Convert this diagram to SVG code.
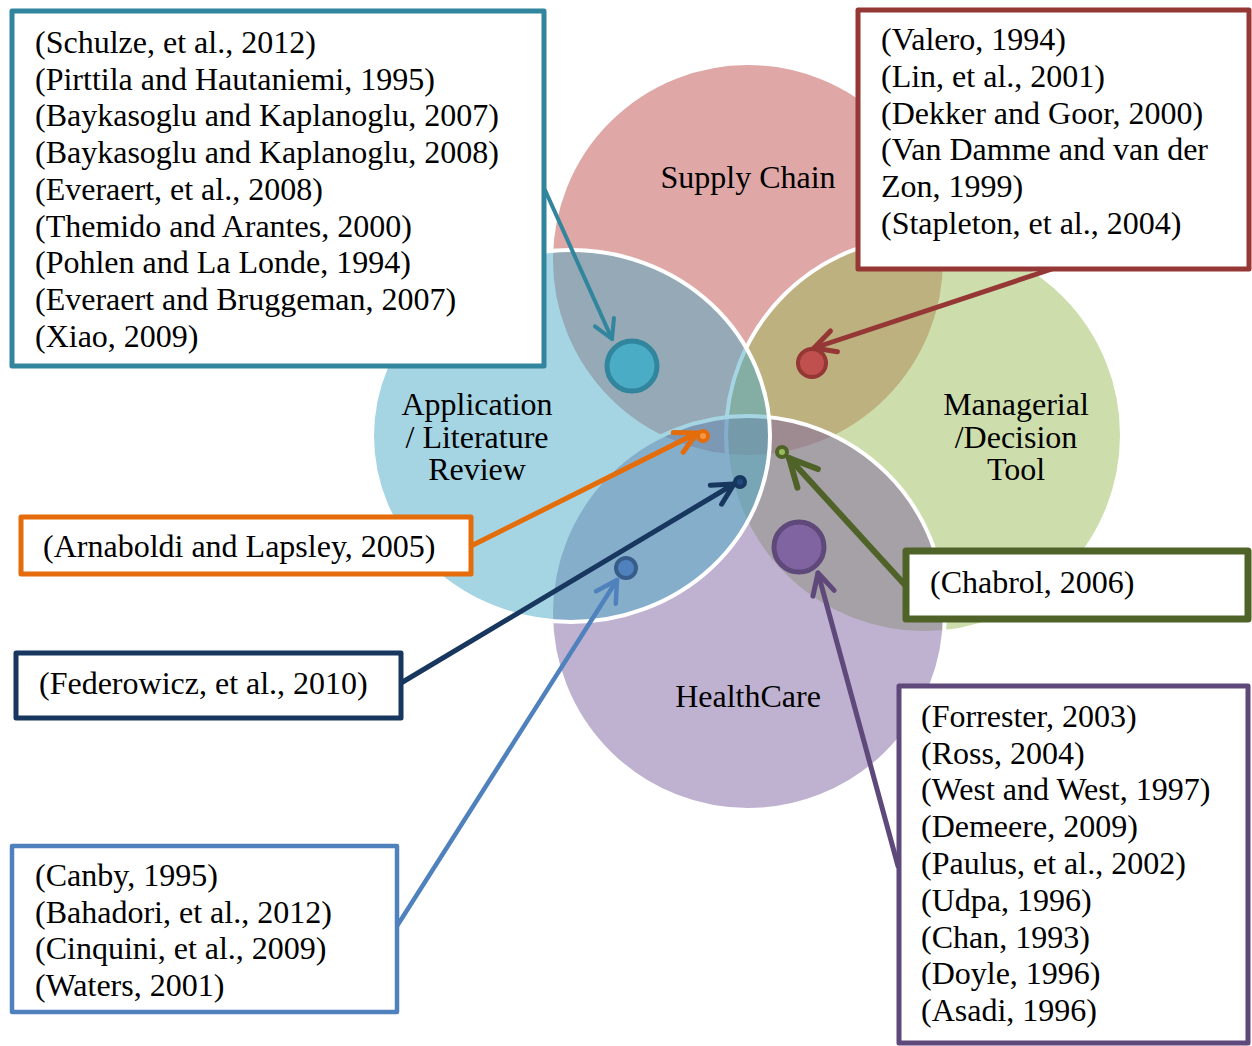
<svg xmlns="http://www.w3.org/2000/svg" width="1252" height="1046" viewBox="0 0 1252 1046">
<style>
text{font-family:"Liberation Serif","Times New Roman",serif;font-size:32px;fill:#000}
.lbl{text-anchor:middle}
.venn{stroke:#fff;stroke-width:4;fill-opacity:0.5}
.box{fill:#fff;stroke-linejoin:round}
.con{fill:none;stroke-linecap:round}
</style>
<defs>
<marker id="m-teal" markerUnits="strokeWidth" orient="auto" overflow="visible" refX="0" refY="0" markerWidth="10" markerHeight="10"><path d="M-4.6,-2.6 L0,0 L-4.6,2.6" fill="none" stroke="#31859C" stroke-width="1" stroke-linecap="round" stroke-linejoin="round"/></marker>
<marker id="m-red" markerUnits="strokeWidth" orient="auto" overflow="visible" refX="0" refY="0" markerWidth="10" markerHeight="10"><path d="M-4.2,-2.2 L0,0 L-4.2,2.2" fill="none" stroke="#953735" stroke-width="1" stroke-linecap="round" stroke-linejoin="round"/></marker>
<marker id="m-orange" markerUnits="strokeWidth" orient="auto" overflow="visible" refX="0" refY="0" markerWidth="10" markerHeight="10"><path d="M-4.2,-2.2 L0,0 L-4.2,2.2" fill="none" stroke="#E46C0A" stroke-width="1" stroke-linecap="round" stroke-linejoin="round"/></marker>
<marker id="m-navy" markerUnits="strokeWidth" orient="auto" overflow="visible" refX="0" refY="0" markerWidth="10" markerHeight="10"><path d="M-4.2,-2.2 L0,0 L-4.2,2.2" fill="none" stroke="#17375E" stroke-width="1" stroke-linecap="round" stroke-linejoin="round"/></marker>
<marker id="m-blue" markerUnits="strokeWidth" orient="auto" overflow="visible" refX="0" refY="0" markerWidth="10" markerHeight="10"><path d="M-4.6,-2.6 L0,0 L-4.6,2.6" fill="none" stroke="#4F81BD" stroke-width="1" stroke-linecap="round" stroke-linejoin="round"/></marker>
<marker id="m-olive" markerUnits="strokeWidth" orient="auto" overflow="visible" refX="0" refY="0" markerWidth="10" markerHeight="10"><path d="M-4.6,-2.3 L0,0 L-4.6,2.3" fill="none" stroke="#4F6228" stroke-width="1" stroke-linecap="round" stroke-linejoin="round"/></marker>
<marker id="m-purple" markerUnits="strokeWidth" orient="auto" overflow="visible" refX="0" refY="0" markerWidth="10" markerHeight="10"><path d="M-4.2,-2.2 L0,0 L-4.2,2.2" fill="none" stroke="#5F497A" stroke-width="1" stroke-linecap="round" stroke-linejoin="round"/></marker>
</defs>
<rect width="1252" height="1046" fill="#fff"/>
<g id="venn">
<g id="supply-chain"><circle class="venn" cx="748" cy="260" r="197" fill="#C0504D"/></g>
<g id="managerial"><circle class="venn" cx="924" cy="435" r="198" fill="#9BBB59"/></g>
<g id="healthcare"><circle class="venn" cx="748" cy="613" r="197" fill="#8064A2"/></g>
<g id="application"><ellipse class="venn" cx="571" cy="436" rx="199" ry="186" fill="#4BACC6"/></g>
</g>
<g id="labels">
<text class="lbl" x="748" y="188">Supply Chain</text>
<text class="lbl" x="477" y="415">Application<tspan x="477" dy="33">/ Literature</tspan><tspan x="477" dy="32">Review</tspan></text>
<text class="lbl" x="1016" y="415">Managerial<tspan x="1016" dy="33">/Decision</tspan><tspan x="1016" dy="32">Tool</tspan></text>
<text class="lbl" x="748" y="707">HealthCare</text>
</g>
<g id="points">
<circle cx="632" cy="366" r="25" fill="#4BACC6" stroke="#31859C" stroke-width="5"/>
<circle cx="812" cy="363" r="14" fill="#C0504D" stroke="#953735" stroke-width="4"/>
<circle cx="703" cy="436" r="5" fill="#F79646" stroke="#E46C0A" stroke-width="4"/>
<circle cx="740" cy="482" r="5" fill="#1F497D" stroke="#17375E" stroke-width="4"/>
<circle cx="782" cy="452" r="5" fill="#9BBB59" stroke="#4F6228" stroke-width="4"/>
<circle cx="799" cy="547" r="25" fill="#8064A2" stroke="#5F497A" stroke-width="5"/>
<circle cx="626" cy="568" r="10" fill="#4F81BD" stroke="#385D8A" stroke-width="4"/>
</g>
<g id="connectors">
<line class="con" x1="545" y1="190" x2="612" y2="339" stroke="#31859C" stroke-width="4" marker-end="url(#m-teal)"/>
<line class="con" x1="1055" y1="268" x2="814" y2="348" stroke="#953735" stroke-width="5" marker-end="url(#m-red)"/>
<line class="con" x1="473" y1="545" x2="697" y2="433" stroke="#E46C0A" stroke-width="5" marker-end="url(#m-orange)"/>
<line class="con" x1="401" y1="683" x2="734" y2="484" stroke="#17375E" stroke-width="5" marker-end="url(#m-navy)"/>
<line class="con" x1="397" y1="926" x2="617" y2="580" stroke="#4F81BD" stroke-width="4.5" marker-end="url(#m-blue)"/>
<line class="con" x1="905" y1="585" x2="789" y2="458" stroke="#4F6228" stroke-width="6" marker-end="url(#m-olive)"/>
<line class="con" x1="898" y1="866" x2="818" y2="573" stroke="#5F497A" stroke-width="5" marker-end="url(#m-purple)"/>
</g>
<g id="box-application">
<rect class="box" x="12" y="11" width="532" height="355" stroke="#31859C" stroke-width="5"/>
<text x="35" y="53">(Schulze, et al., 2012)</text>
<text x="35" y="90">(Pirttila and Hautaniemi, 1995)</text>
<text x="35" y="126">(Baykasoglu and Kaplanoglu, 2007)</text>
<text x="35" y="163">(Baykasoglu and Kaplanoglu, 2008)</text>
<text x="35" y="200">(Everaert, et al., 2008)</text>
<text x="35" y="237">(Themido and Arantes, 2000)</text>
<text x="35" y="273">(Pohlen and La Londe, 1994)</text>
<text x="35" y="310">(Everaert and Bruggeman, 2007)</text>
<text x="35" y="347">(Xiao, 2009)</text>
</g>
<g id="box-supply">
<rect class="box" x="858" y="10" width="391" height="259" stroke="#953735" stroke-width="5"/>
<text x="881" y="50">(Valero, 1994)</text>
<text x="881" y="87">(Lin, et al., 2001)</text>
<text x="881" y="124">(Dekker and Goor, 2000)</text>
<text x="881" y="160">(Van Damme and van der</text>
<text x="881" y="197">Zon, 1999)</text>
<text x="881" y="234">(Stapleton, et al., 2004)</text>
</g>
<g id="box-arnaboldi">
<rect class="box" x="21" y="517" width="450" height="57" stroke="#E46C0A" stroke-width="5"/>
<text x="43" y="557">(Arnaboldi and Lapsley, 2005)</text>
</g>
<g id="box-federowicz">
<rect class="box" x="16" y="653" width="385" height="65" stroke="#17375E" stroke-width="5"/>
<text x="39" y="694">(Federowicz, et al., 2010)</text>
</g>
<g id="box-canby">
<rect class="box" x="12" y="846" width="385" height="166" stroke="#4F81BD" stroke-width="4.5"/>
<text x="35" y="886">(Canby, 1995)</text>
<text x="35" y="923">(Bahadori, et al., 2012)</text>
<text x="35" y="959">(Cinquini, et al., 2009)</text>
<text x="35" y="996">(Waters, 2001)</text>
</g>
<g id="box-chabrol">
<rect class="box" x="906" y="551" width="342" height="68" stroke="#4F6228" stroke-width="7"/>
<text x="930" y="593">(Chabrol, 2006)</text>
</g>
<g id="box-healthcare">
<rect class="box" x="899" y="686" width="349" height="357" stroke="#5F497A" stroke-width="5"/>
<text x="921" y="727">(Forrester, 2003)</text>
<text x="921" y="764">(Ross, 2004)</text>
<text x="921" y="800">(West and West, 1997)</text>
<text x="921" y="837">(Demeere, 2009)</text>
<text x="921" y="874">(Paulus, et al., 2002)</text>
<text x="921" y="911">(Udpa, 1996)</text>
<text x="921" y="948">(Chan, 1993)</text>
<text x="921" y="984">(Doyle, 1996)</text>
<text x="921" y="1021">(Asadi, 1996)</text>
</g>
</svg>
